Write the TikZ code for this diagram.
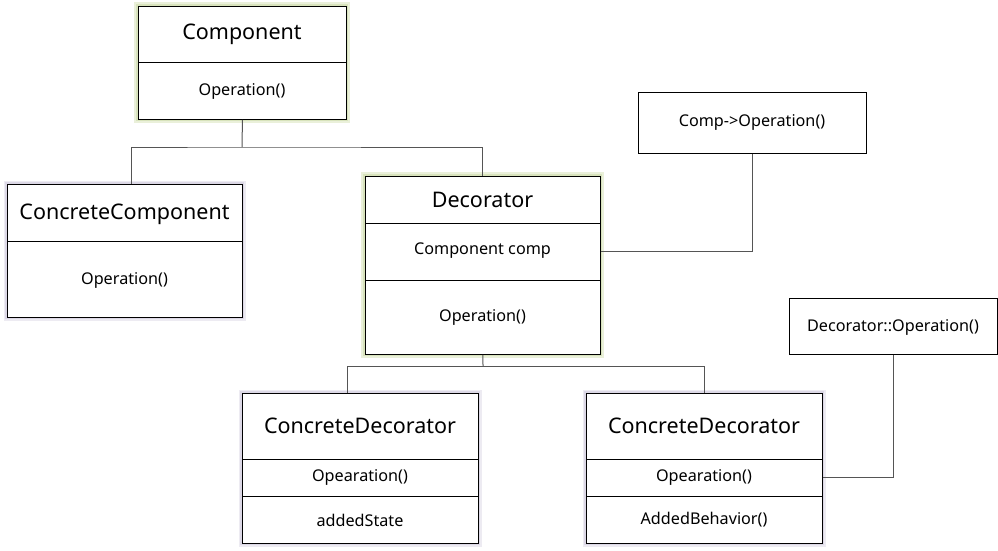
\documentclass[tikz,border=0pt]{standalone}
\usepackage{fontspec}
\setmainfont{Noto Sans}
\usetikzlibrary{positioning}
\definecolor{lineg}{HTML}{555555}
\definecolor{glowgreen}{HTML}{D8E3BC}
\definecolor{glowpurple}{HTML}{DCD8E6}
\tikzset{
  box/.style={draw=black, line width=0.9pt, fill=white, anchor=north west, inner sep=0pt},
  glowg/.style={draw=glowgreen!55, line width=8pt, postaction={draw=glowgreen, line width=4.5pt}},
  glowp/.style={draw=glowpurple!50, line width=7pt, postaction={draw=glowpurple, line width=3.5pt}},
  title/.style={font=\fontsize{21.5}{25}\selectfont, inner sep=0pt},
  body/.style={font=\fontsize{16.2}{19}\selectfont, inner sep=0pt},
  conn/.style={draw=lineg, line width=1pt},
  sep/.style={draw=black, line width=0.8pt}
}
\newcommand{\umlbox}[6]{% name, x1, y1, x2, y2, glowstyle
  \draw[#6] (#2,#3) rectangle (#4,#5);
  \node[box, minimum width=#4-#2, minimum height=#5-#3] (#1) at (#2,#3) {};
}
\begin{document}
\begin{tikzpicture}[x=1pt,y=-1pt]
\useasboundingbox (0,0) rectangle (998,550);
\fill[white] (0,0) rectangle (998,550);

% Component
\umlbox{comp}{138}{6}{346}{119}{glowg}
\draw[sep] (138,62) -- (346,62);
\node[title] (compT) at (242,34) {Component};
\node[body] (compO) at (242,91) {Operation()};

% ConcreteComponent
\umlbox{ccomp}{7}{184}{242}{317}{glowp}
\draw[sep] (7,241) -- (242,241);
\node[title] (ccompT) at (124.5,214) {ConcreteComponent};
\node[body] (ccompO) at (124.5,280) {Operation()};

% Decorator
\umlbox{dec}{365}{176}{600}{354}{glowg}
\draw[sep] (365,223) -- (600,223);
\draw[sep] (365,280) -- (600,280);
\node[title] (decT) at (482.5,200) {Decorator};
\node[body] (decA) at (482.5,251) {Component comp};
\node[body] (decO) at (482.5,317) {Operation()};

% Notes
\node[box, minimum width=228, minimum height=61] (note1) at (638,92) {};
\node[body] (note1T) at (752,122) {Comp->Operation()};
\node[box, minimum width=208, minimum height=56] (note2) at (789,298) {};
\node[body] (note2T) at (893,327) {Decorator::Operation()};

% ConcreteDecorator 1
\umlbox{cd1}{242}{393}{478}{543}{glowp}
\draw[sep] (242,459) -- (478,459);
\draw[sep] (242,496) -- (478,496);
\node[title] (cd1T) at (360,426) {ConcreteDecorator};
\node[body] (cd1O) at (360,477) {Opearation()};
\node[body] (cd1A) at (360,520) {addedState};

% ConcreteDecorator 2
\umlbox{cd2}{586}{393}{822}{543}{glowp}
\draw[sep] (586,459) -- (822,459);
\draw[sep] (586,496) -- (822,496);
\node[title] (cd2T) at (704,426) {ConcreteDecorator};
\node[body] (cd2O) at (704,477) {Opearation()};
\node[body] (cd2A) at (704,520) {AddedBehavior()};

% connectors
\coordinate (j1) at (242,147);
\draw[conn] (comp.south) -- (j1);
\draw[conn] (ccomp.north -| 131,0) |- (j1) -| (dec.north);
\coordinate (j2) at (483,366);
\draw[conn] (dec.south) -- (j2);
\draw[conn] (cd1.north -| 347,0) |- (j2) -| (cd2.north);
\draw[conn] (dec.east |- decA) -| (note1.south);
\draw[conn] (cd2.east |- cd2O) -| (note2.south);
\end{tikzpicture}
\end{document}
